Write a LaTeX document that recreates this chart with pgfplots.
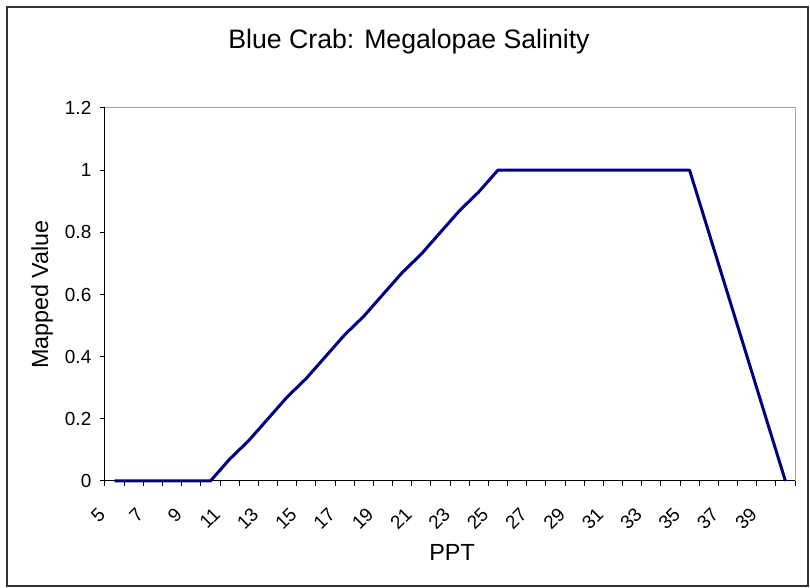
\documentclass[border=0pt]{standalone}
\usepackage{fontspec}
\setmainfont{Liberation Sans}
\usepackage{pgfplots}
\pgfplotsset{compat=1.18}
\definecolor{navyline}{RGB}{0,0,128}
\definecolor{frame}{RGB}{51,51,51}
\begin{document}
\begin{tikzpicture}
\useasboundingbox (-78.75pt,-80.25pt) rectangle (528.75pt,360.75pt);
\begin{axis}[
  at={(0,0)}, anchor=south west,
  scale only axis,
  width=517.5pt, height=279.75pt,
  xmin=4.5, xmax=40.5,
  ymin=0, ymax=1.2,
  axis x line*=bottom,
  axis y line*=left,
  axis line style={black, line width=0.75pt},
  every tick/.style={black, line width=0.75pt},
  tick align=outside,
  major tick length=3.75pt,
  /pgf/number format/assume math mode=true,
  ytick={0,0.2,0.4,0.6,0.8,1,1.2},
  yticklabels={0,0.2,0.4,0.6,0.8,1,1.2},
  yticklabel style={font=\fontsize{14.2}{16}\selectfont, xshift=-3pt},
  xtick={4.5,5.5,...,40.5},
  xticklabels={},
  extra x ticks={5,7,9,11,13,15,17,19,21,23,25,27,29,31,33,35,37,39},
  extra x tick labels={5,7,9,11,13,15,17,19,21,23,25,27,29,31,33,35,37,39},
  extra x tick style={major tick length=0pt,
    xticklabel style={font=\fontsize{14.2}{16}\selectfont, xshift=-9.5pt, yshift=-22.5pt, rotate=45, anchor=east, inner sep=0pt}},
  title={Blue Crab: Megalopae Salinity},
  title style={at={(axis description cs:0.4406,1.1375)}, anchor=base, font=\fontsize{20}{23}\selectfont},
  xlabel={PPT},
  xlabel style={at={(axis description cs:0.503,-0.2118)}, anchor=base, font=\fontsize{17.5}{20}\selectfont},
  ylabel={Mapped Value},
  ylabel style={at={(axis description cs:-0.0913,0.5)}, anchor=center, font=\fontsize{17.5}{20}\selectfont},
  clip=false,
  after end axis/.code={
    \draw[gray!70, line width=0.75pt] (rel axis cs:0,1) -- (rel axis cs:1,1) -- (rel axis cs:1,0);
  },
]
\addplot[navyline, line width=2.25pt, line join=round, mark=none] coordinates {
(5,0) (6,0) (7,0) (8,0) (9,0) (10,0)
(11,0.07) (12,0.13) (13,0.2) (14,0.27) (15,0.33) (16,0.4) (17,0.47) (18,0.53)
(19,0.6) (20,0.67) (21,0.73) (22,0.8) (23,0.87) (24,0.93) (25,1)
(26,1) (27,1) (28,1) (29,1) (30,1) (31,1) (32,1) (33,1) (34,1) (35,1)
(36,0.8) (37,0.6) (38,0.4) (39,0.2) (40,0)
};
\end{axis}
\draw[frame, line width=1.5pt] (-73.5pt,-78.75pt) rectangle (527.25pt,355.5pt);
\end{tikzpicture}
\end{document}
